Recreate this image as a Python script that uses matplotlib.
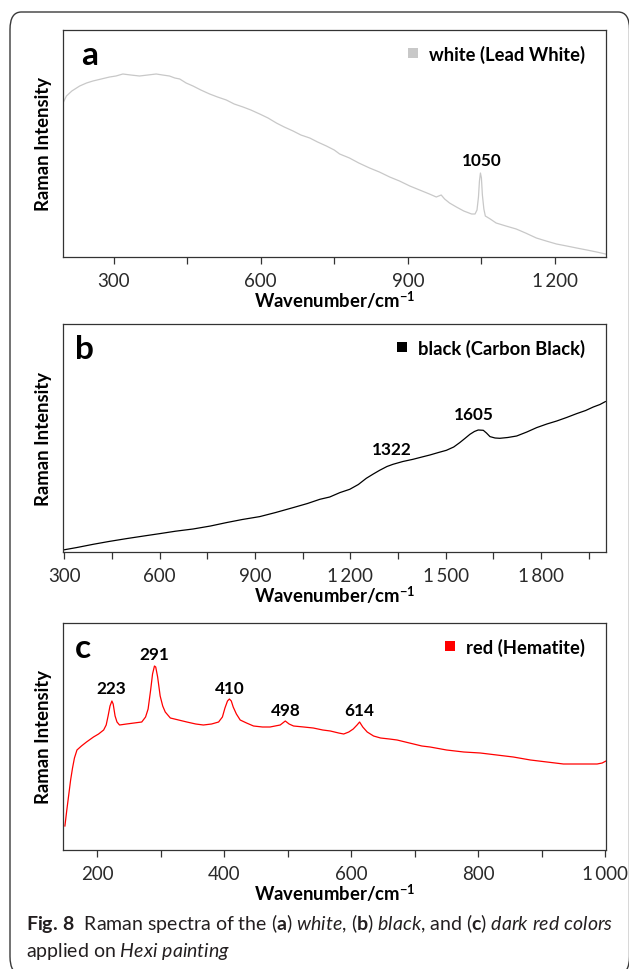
import matplotlib
matplotlib.use("Agg")
import matplotlib.pyplot as plt
from matplotlib.lines import Line2D
from matplotlib.patches import FancyBboxPatch
from matplotlib.ticker import MultipleLocator, FuncFormatter

plt.rcParams["font.family"] = ["Lato", "DejaVu Sans"]
plt.rcParams["mathtext.fontset"] = "custom"
plt.rcParams["mathtext.rm"] = "Lato"
plt.rcParams["mathtext.it"] = "Lato:italic"
plt.rcParams["mathtext.bf"] = "Lato:bold"

# (a) white - Lead White
white_wn = [197, 204, 215, 231, 245, 258, 275, 292, 305, 319, 335, 353, 370, 387, 400,
            414, 425, 435, 448, 462, 478, 496, 512, 530, 546, 564, 580, 598, 615, 632,
            648, 666, 682, 700, 716, 734, 750, 761, 781, 800, 822, 842, 863, 883, 904,
            924, 944, 958, 968, 975, 985, 999, 1014, 1030, 1037, 1041, 1044, 1046, 1048,
            1050, 1052, 1055, 1058, 1068, 1080, 1100, 1121, 1140, 1162, 1182, 1203, 1224,
            1244, 1265, 1285, 1303]
white_int = [154, 161, 166, 171, 174, 176, 178, 180, 181, 183, 182, 181, 182, 183, 182,
             181, 179, 178, 174, 171, 167, 163, 160, 157, 153, 150, 147, 143, 139, 134,
             130, 126, 122, 119, 115, 111, 107, 103, 99, 94, 89, 85, 80, 76, 71,
             67, 63, 60, 62, 58, 54, 50, 46, 43, 43, 47, 60, 76, 84,
             79, 62, 48, 41, 38, 34, 31, 28, 24, 19, 16, 13, 11,
             9, 7, 5, 3]

# (b) black - Carbon Black
black_wn = [296, 340, 391, 440, 496, 550, 601, 650, 705, 760, 810, 860, 915, 965, 1020,
            1065, 1104, 1135, 1167, 1198, 1225, 1250, 1272, 1292, 1315, 1334, 1365, 1397,
            1425, 1450, 1477, 1502, 1525, 1544, 1560, 1576, 1590, 1602, 1618, 1628, 1639,
            1655, 1670, 1695, 1723, 1755, 1786, 1818, 1849, 1880, 1912, 1940, 1964, 1985,
            2002]
black_int = [2, 4.5, 7.7, 10.5, 13.4, 16, 18.4, 20.8, 23, 26, 29.4, 32.5, 35.4, 39.5, 44.4,
             48.5, 52.7, 55, 59.4, 62.7, 67.5, 73.7, 78, 81.7, 85.5, 87.7, 90.5, 92.7,
             95, 97, 99.5, 101.7, 105, 109.4, 113.5, 117.7, 120.5, 122, 121.7, 119, 115.4,
             114, 113.7, 114.5, 116, 120, 124.4, 128, 131, 134.5, 138.4, 141.5, 145, 147.5,
             150.4]

# (c) red - Hematite
red_wn = [149, 152, 155, 158, 161, 164, 168, 175, 183, 194, 202, 210, 214, 217, 220,
          223, 225, 228, 231, 235, 246, 258, 270, 276, 280, 284, 287, 290, 292, 295,
          299, 303, 307, 315, 328, 341, 355, 367, 380, 391, 397, 401, 405, 408, 411,
          414, 419, 425, 435, 446, 460, 472, 488, 496, 502, 509, 525, 540, 555, 567,
          580, 588, 596, 603, 609, 613, 618, 625, 635, 646, 660, 672, 685, 698, 711,
          724, 750, 777, 803, 829, 855, 882, 908, 934, 961, 987, 995, 1001]
red_int = [24, 40, 55, 70, 82, 92, 100, 104, 108, 113, 116, 120, 125, 134, 144,
           149, 146, 134, 128, 125, 126, 127, 128, 133, 141, 160, 176, 184, 183, 173,
           154, 144, 138, 132, 130, 128, 126, 125, 126, 128, 133, 142, 149, 151, 149,
           143, 136, 130, 127, 124, 123, 123, 125, 129, 126, 124, 123, 122, 120, 119,
           117, 116, 118, 121, 125, 128, 123, 118, 114, 112, 111, 110, 108, 106, 104,
           103, 100, 98, 97, 95, 93, 90, 88, 86, 86, 86, 87, 89]

peaks_a = [("1050", 1050, 97)]
peaks_b = [("1322", 1329, 103), ("1605", 1589, 138)]
peaks_c = [("223", 222, 162), ("291", 290, 196), ("410", 408, 162),
           ("498", 497, 140), ("614", 613, 140)]

W, H = 629, 970
fig = plt.figure(figsize=(W / 100, H / 100), dpi=100)

# outer frame of the figure box
frame = FancyBboxPatch((10 / W, 1 - 975 / H), 619.5 / W, 962 / H,
                       boxstyle="round,pad=0,rounding_size=0.018",
                       transform=fig.transFigure, fill=False,
                       edgecolor="#3a3a3a", linewidth=1.0, clip_on=False)
fig.patches.append(frame)


def thin_space(v, pos):
    v = int(round(v))
    if v >= 1000:
        return f"{v // 1000}\u2009{v % 1000:03d}"
    return str(v)


def panel(top, bottom, wn, inten, color, xlim, ylim_top, major, minor,
          letter, letter_x, legend_label, peaks):
    ax = fig.add_axes([63 / W, 1 - bottom / H, 543 / W, (bottom - top) / H])
    ax.plot(wn, inten, color=color, lw=0.9)
    ax.set_xlim(*xlim)
    ax.set_ylim(0, ylim_top)
    ax.set_yticks([])
    ax.xaxis.set_major_locator(MultipleLocator(major))
    ax.xaxis.set_minor_locator(MultipleLocator(minor))
    ax.xaxis.set_major_formatter(FuncFormatter(thin_space))
    ax.tick_params(axis="x", which="both", direction="out", length=5,
                   width=0.9, color="#333333", pad=6)
    ax.tick_params(axis="x", which="major", labelsize=13.5, labelcolor="#2a2a2a")
    for sp in ax.spines.values():
        sp.set_color("#333333")
        sp.set_linewidth(0.9)

    ax.set_xlabel("Wavenumber/cm$^{\\mathbf{-1}}$", fontsize=13.3, fontweight="bold")
    ax.xaxis.set_label_coords(0.5, -0.14)
    ax.set_ylabel("Raman Intensity", fontsize=13.3, fontweight="bold")
    ax.yaxis.set_label_coords(-0.021, 0.5)

    ax.text(letter_x, 0.85, letter, transform=ax.transAxes, fontsize=24,
            fontweight="bold", va="baseline", ha="left")

    handle = Line2D([], [], ls="none", marker="s", markersize=7.5,
                    color=color, markeredgewidth=0)
    ax.legend([handle], [legend_label], loc="upper right",
              bbox_to_anchor=(0.962, 0.935), frameon=False, borderpad=0,
              borderaxespad=0, handlelength=0.8, handletextpad=0.5,
              prop={"family": "Lato", "weight": "bold", "size": 13.2})

    for txt, x, y in peaks:
        ax.text(x, y, txt, ha="center", va="center", fontsize=12.3,
                fontweight="bold")
    return ax


panel(31, 258, white_wn, white_int, "#c8c8c8", (197, 1304), 227, 300, 150,
      "a", 0.034, "white (Lead White)", peaks_a)
panel(325, 553, black_wn, black_int, "black", (296, 2004), 228, 300, 150,
      "b", 0.022, "black (Carbon Black)", peaks_b)
panel(624, 851, red_wn, red_int, "#ff0000", (146, 1001), 227, 200, 100,
      "c", 0.022, "red (Hematite)", peaks_c)

line1 = (r"$\mathbf{Fig.\,8}$  Raman spectra of the ($\mathbf{a}$) $\mathit{white}$, "
         r"($\mathbf{b}$) $\mathit{black}$, and ($\mathbf{c}$) $\mathit{dark\ red\ colors}$")
line2 = r"applied on $\mathit{Hexi\ painting}$"
fig.text(26 / W, 1 - 930 / H, line1, fontsize=14, va="baseline", color="#231f20")
fig.text(26 / W, 1 - 957 / H, line2, fontsize=14, va="baseline", color="#231f20")

fig.savefig("out.png", dpi=100)
